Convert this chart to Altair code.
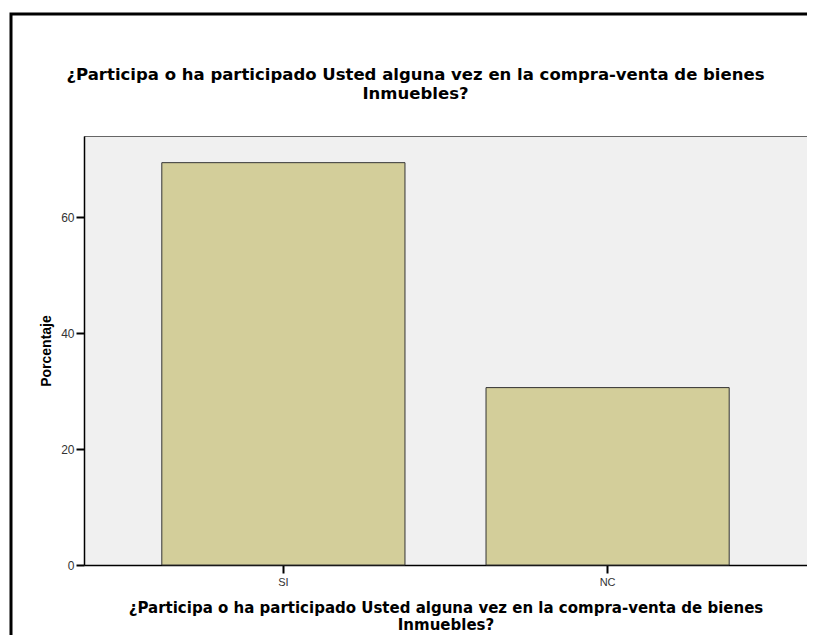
import altair as alt
import pandas as pd

categories = ["SI", "NC"]
percentages = [69.4, 30.6]
y_ticks = [0, 20, 40, 60]

title_lines = ["¿Participa o ha participado Usted alguna vez en la compra-venta de bienes", "Inmuebles?"]

df = pd.DataFrame({"cat": categories, "pct": percentages})

bars = alt.Chart(df).mark_bar(
    color="#D3CE9A", stroke="#333333", strokeWidth=1
).encode(
    x=alt.X("cat:N", sort=categories,
            scale=alt.Scale(paddingInner=0.25, paddingOuter=0.24),
            axis=alt.Axis(title=title_lines, labelAngle=0, labelFontSize=11,
                          labelColor="#333333", labelFont="Liberation Sans",
                          labelPadding=3,
                          tickColor="black", tickWidth=2, tickSize=8,
                          domainColor="black", domainWidth=1.5,
                          titleFont="DejaVu Sans", titleFontSize=15, titleFontWeight="bold",
                          titleColor="black", titleLineHeight=17,
                          titleY=35, titleBaseline="top")),
    y=alt.Y("pct:Q", scale=alt.Scale(domain=[0, 74], nice=False),
            axis=alt.Axis(title="Porcentaje", values=y_ticks, grid=False,
                          labelFontSize=12, labelColor="#333333", labelFont="Liberation Sans",
                          labelPadding=2,
                          tickColor="black", tickWidth=2, tickSize=8,
                          domainColor="black", domainWidth=1.5,
                          titleFont="Liberation Sans", titleFontSize=14, titleFontWeight="bold",
                          titleColor="black", titleX=-38, titleBaseline="middle")),
)

frame = alt.Chart(pd.DataFrame({"k": [0]})).mark_rect(
    fill=None, stroke="black", strokeWidth=3
).encode(
    x=alt.value(-73), x2=alt.value(900),
    y=alt.value(-122), y2=alt.value(600),
)

chart = alt.layer(bars, frame).properties(
    width=723, height=429,
    title=alt.TitleParams(text=title_lines, anchor="middle", font="DejaVu Sans",
                          fontSize=16.5, fontWeight="bold", color="black",
                          lineHeight=19, offset=-90, dx=-30),
    autosize=alt.AutoSizeParams(type="none"),
    padding={"left": 76, "top": 128, "right": 0, "bottom": 70},
    background="white",
).configure_view(
    fill="#F0F0F0", stroke="#666666", strokeWidth=1
)

chart.save("out.html", embed_options={"renderer": "svg", "actions": False})
